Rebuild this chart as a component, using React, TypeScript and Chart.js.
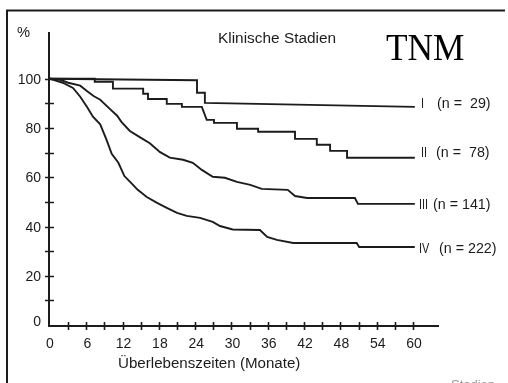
import { useEffect, useRef } from "react";
import { Chart, registerables } from "chart.js";

Chart.register(...registerables);

// Survival (%) by clinical TNM stage, months after diagnosis
const stageIMonths = [0, 24.3, 24.3, 25.6, 25.6, 60.3];
const stageIPct = [100, 99.4, 94.3, 94.3, 90.2, 88.6];

const stageIIMonths = [0, 7.4, 7.4, 10.4, 10.4, 15.4, 15.4, 16.2, 16.2, 19.3, 19.3, 21.8, 21.8, 25.1, 25.9, 27.1, 27.1, 30.9, 30.9, 34.4, 34.4, 40.5, 40.5, 44.1, 44.1, 46.3, 46.3, 49.1, 49.1, 60.3];
const stageIIPct = [100, 100, 98.8, 98.8, 96.0, 96.0, 93.9, 93.9, 91.8, 91.8, 89.8, 89.8, 88.6, 88.6, 83.3, 83.3, 82.1, 82.1, 79.7, 79.7, 78.5, 78.5, 75.6, 75.6, 73.2, 73.2, 70.7, 70.7, 67.9, 67.9];

const stageIIIMonths = [0, 1.7, 3.0, 5.0, 6.1, 7.2, 8.3, 9.8, 11.1, 11.8, 13.2, 14.9, 16.5, 18.2, 19.8, 22.0, 23.6, 25.1, 26.9, 28.9, 30.9, 33.1, 35.0, 39.3, 40.5, 42.5, 50.4, 50.9, 60.3];
const stageIIIPct = [100, 99.6, 98.4, 97.2, 95.0, 93.0, 91.5, 88.0, 85.0, 82.5, 78.8, 76.2, 73.8, 70.2, 68.0, 67.1, 65.9, 63.0, 60.2, 59.8, 58.1, 56.9, 55.3, 54.9, 52.4, 51.6, 51.6, 49.2, 49.2];

const stageIVMonths = [0, 2.1, 3.8, 5.0, 6.1, 7.1, 8.3, 9.3, 10.2, 11.3, 12.3, 13.4, 14.5, 16.0, 17.7, 19.3, 21.0, 22.6, 24.8, 26.9, 28.1, 30.2, 34.7, 35.9, 37.5, 40.2, 50.7, 51.1, 60.3];
const stageIVPct = [100, 98.4, 96.3, 92.7, 88.6, 84.6, 81.5, 75.5, 69.5, 65.9, 60.5, 57.7, 54.9, 52.0, 49.6, 47.6, 45.5, 44.3, 43.5, 41.9, 40.2, 38.8, 38.6, 35.8, 34.6, 33.3, 33.3, 31.7, 31.7];

const stageNames = ["I", "II", "III", "IV"];
const stageCounts = ["(n =  29)", "(n =  78)", "(n = 141)", "(n = 222)"];

const xTickMonths = [3, 6, 9, 12, 15, 18, 21, 24, 27, 30, 33, 36, 39, 42, 45, 48, 51, 54, 57, 60];
const xLabelMonths = [0, 6, 12, 18, 24, 30, 36, 42, 48, 54, 60];
const yTickPct = [10, 20, 30, 40, 50, 60, 70, 80, 90, 100];
const yLabelPct = [0, 20, 40, 60, 80, 100];

const chartTitle = "Klinische Stadien";
const cornerTitle = "TNM";
const xAxisTitle = "Überlebenszeiten (Monate)";
const yAxisUnit = "%";
const footNote = "Stadien";

const W = 508;
const H = 383;
const INK = "#1c1c1c";
const SANS = '"Liberation Sans", Arial, Helvetica, sans-serif';
const SERIF = '"Liberation Serif", "Times New Roman", serif';

function pairs(xs: number[], ys: number[]) {
  return xs.map((x, i) => ({ x, y: ys[i] }));
}

function text(
  ctx: CanvasRenderingContext2D,
  s: string,
  x: number,
  y: number,
  size: number,
  align: CanvasTextAlign = "left",
  family = SANS,
  stretch = 1,
  color = INK
) {
  ctx.save();
  ctx.font = `${size}px ${family}`;
  ctx.fillStyle = color;
  ctx.textAlign = align;
  ctx.textBaseline = "alphabetic";
  ctx.translate(x, y);
  ctx.scale(stretch, 1);
  ctx.fillText(s, 0, 0);
  ctx.restore();
}

// Axes with crossing tick marks, frame and all annotations
const decorations = {
  id: "decorations",
  afterDraw(chart: any) {
    const { ctx, scales } = chart;
    const xs = scales.x;
    const ys = scales.y;
    const x0 = xs.getPixelForValue(0);
    const y0 = ys.getPixelForValue(0);

    ctx.save();
    ctx.strokeStyle = INK;
    ctx.lineCap = "butt";

    // frame (top and left edge)
    ctx.lineWidth = 2;
    ctx.beginPath();
    ctx.moveTo(6, 10.5);
    ctx.lineTo(505, 10.5);
    ctx.moveTo(7, 10);
    ctx.lineTo(7, H);
    ctx.stroke();

    // axis lines
    ctx.lineWidth = 2;
    ctx.beginPath();
    ctx.moveTo(x0 - 1, ys.top);
    ctx.lineTo(x0 - 1, y0 + 1);
    ctx.lineTo(xs.right, y0 + 1);
    ctx.stroke();

    // tick marks
    ctx.lineWidth = 1.6;
    ctx.beginPath();
    for (const v of yTickPct) {
      const py = Math.round(ys.getPixelForValue(v)) + 0.5;
      ctx.moveTo(x0 - 5, py);
      ctx.lineTo(x0 + 4, py);
    }
    for (const m of xTickMonths) {
      const px = Math.round(xs.getPixelForValue(m)) + 0.5;
      ctx.moveTo(px, y0 - 3);
      ctx.lineTo(px, y0 + 5);
    }
    ctx.stroke();
    ctx.restore();

    // tick labels
    for (const v of yLabelPct) {
      const py = ys.getPixelForValue(v);
      text(ctx, String(v), 41, py + (v === 0 ? 1 : 5), 14, "right");
    }
    for (const m of xLabelMonths) {
      const px = xs.getPixelForValue(m);
      text(ctx, String(m), px + (m === 0 ? 0 : 1), 348, 14, "center");
    }

    text(ctx, yAxisUnit, 17, 37, 14, "left", SANS, 1.05);
    text(ctx, xAxisTitle, 118, 368, 14, "left", SANS, 1.08);
    text(ctx, chartTitle, 218, 43, 14, "left", SANS, 1.1);
    text(ctx, cornerTitle, 386, 60, 38, "left", SERIF, 0.93, "#000");
    text(ctx, footNote, 451, 389, 13, "left", SANS, 1, "#9a9a9a");

    // stage labels at the end of each curve
    const labelY = [108, 157, 209, 253];
    const nameX = [421, 421, 419, 419];
    const countX = [437, 436, 433, 439];
    stageNames.forEach((n, i) => {
      text(ctx, n, nameX[i], labelY[i], 14, "left", SANS, 0.78);
      text(ctx, stageCounts[i], countX[i], labelY[i], 14, "left", SANS, 1.02);
    });
  },
};

export default function App() {
  const ref = useRef<HTMLCanvasElement | null>(null);

  useEffect(() => {
    const canvas = ref.current;
    if (!canvas) return;
    const line = (xs: number[], ys: number[]) => ({
      data: pairs(xs, ys),
      borderColor: INK,
      borderWidth: 1.9,
      pointRadius: 0,
      tension: 0,
      fill: false,
    });
    const chart = new Chart(canvas, {
      type: "line",
      data: {
        datasets: [
          line(stageIMonths, stageIPct),
          line(stageIIMonths, stageIIPct),
          line(stageIIIMonths, stageIIIPct),
          line(stageIVMonths, stageIVPct),
        ],
      },
      options: {
        animation: false,
        responsive: false,
        devicePixelRatio: 1,
        layout: { padding: { left: 50, right: 69, top: 32, bottom: 58 } },
        plugins: { legend: { display: false }, tooltip: { enabled: false } },
        scales: {
          x: { type: "linear", min: 0, max: 64.3, display: false },
          y: { type: "linear", min: 0, max: 119, display: false },
        },
      },
      plugins: [decorations],
    });
    return () => chart.destroy();
  }, []);

  return (
    <div
      style={{
        position: "fixed",
        left: 0,
        top: 0,
        width: W,
        height: H,
        background: "#fff",
        overflow: "hidden",
      }}
    >
      <canvas ref={ref} width={W} height={H} style={{ display: "block" }} />
    </div>
  );
}
